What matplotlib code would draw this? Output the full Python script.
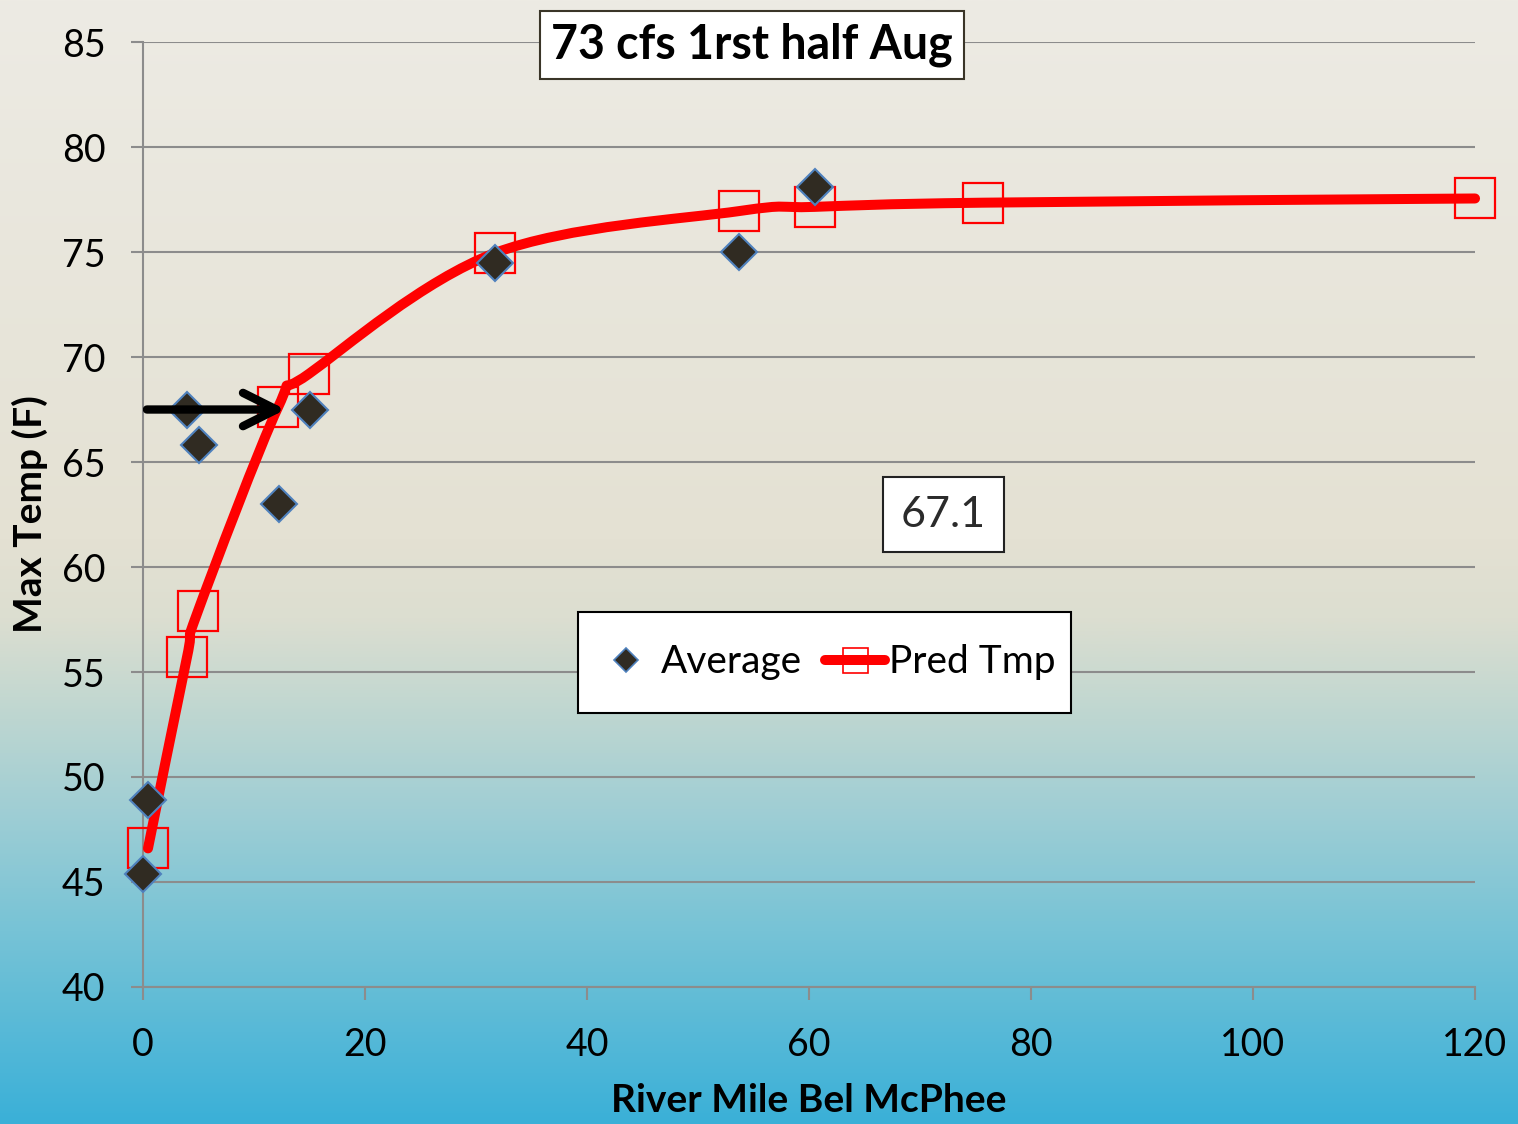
import numpy as np
import matplotlib.pyplot as plt
from matplotlib.path import Path
from matplotlib.patches import PathPatch, FancyArrowPatch, Rectangle
from matplotlib.lines import Line2D

plt.rcParams['font.family'] = ['Lato', 'DejaVu Sans']

# data
avg_mile = [0.0, 0.45, 3.96, 5.05, 12.25, 15.0, 31.7, 53.7, 60.5]
avg_temp = [45.4, 48.9, 67.5, 65.8, 63.0, 67.5, 74.5, 75.0, 78.1]
pred_mile = [0.45, 3.96, 4.95, 12.16, 14.95, 31.7, 53.7, 60.5, 75.7, 120.0]
pred_temp = [46.6, 55.7, 57.9, 67.6, 69.2, 74.95, 76.95, 77.15, 77.35, 77.55]
x_ticks = [0, 20, 40, 60, 80, 100, 120]
y_ticks = [40, 45, 50, 55, 60, 65, 70, 75, 80, 85]
arrow_y = 67.5
arrow_x = [0.1, 13.1]
label_value = '67.1'
title = '73 cfs 1rst half Aug'

grid_c = '#8c8c8c'
W, H = 1518, 1124


def smooth_path(xs, ys):
    # excel style smoothed line: cubic bezier through the points
    pts = np.column_stack([xs, ys])
    n = len(pts)
    verts = [pts[0]]
    codes = [Path.MOVETO]
    for i in range(n - 1):
        p0 = pts[max(i - 1, 0)]
        p1 = pts[i]
        p2 = pts[i + 1]
        p3 = pts[min(i + 2, n - 1)]
        verts += [p1 + (p2 - p0) / 6, p2 - (p3 - p1) / 6, p2]
        codes += [Path.CURVE4] * 3
    return Path(verts, codes)


fig = plt.figure(figsize=(W / 100, H / 100), dpi=100)

# background gradient
stops = [0.0, 0.48, 0.55, 0.62, 0.72, 0.82, 1.0]
cols = np.array([(237, 235, 228), (228, 225, 211), (220, 222, 208), (196, 216, 208),
                 (160, 206, 212), (122, 196, 214), (58, 176, 216)]) / 255.0
yy = np.linspace(0, 1, 600)
grad = np.stack([np.interp(yy, stops, cols[:, k]) for k in range(3)], axis=1)
bg = fig.add_axes([0, 0, 1, 1], zorder=-5)
bg.imshow(grad[:, None, :], aspect='auto', extent=[0, 1, 0, 1], origin='upper')
bg.axis('off')

ax = fig.add_axes([0.0942, 0.1219, 0.8775, 0.8407])
ax.set_facecolor('none')
ax.set_xlim(0, 120)
ax.set_ylim(40, 85)
ax.set_xticks(x_ticks)
ax.set_yticks(y_ticks)
ax.yaxis.grid(True, color=grid_c, lw=1.5)
ax.set_axisbelow(True)
for s in ['top', 'right']:
    ax.spines[s].set_visible(False)
for s in ['left', 'bottom']:
    ax.spines[s].set_color(grid_c)
    ax.spines[s].set_linewidth(1.5)
ax.tick_params(axis='both', length=9, width=1.5, color=grid_c, labelsize=27)
ax.tick_params(axis='y', pad=18)
ax.tick_params(axis='x', pad=20)

ax.plot(pred_mile, pred_temp, ls='none', marker='s', ms=28.5, mfc='none',
        mec='#ff0000', mew=1.6, zorder=3, clip_on=False)
ax.add_patch(PathPatch(smooth_path(pred_mile, pred_temp), fill=False, ec='#ff0000',
                       lw=7.2, capstyle='round', joinstyle='round', zorder=4, clip_on=False))
ax.plot(avg_mile, avg_temp, ls='none', marker='D', ms=18, mfc='#302b22',
        mec='#4f81bd', mew=1.5, zorder=5, clip_on=False)

ax.add_patch(FancyArrowPatch((arrow_x[0], arrow_y), (arrow_x[1], arrow_y),
                             arrowstyle='->,head_length=24,head_width=12',
                             mutation_scale=1, color='black', lw=6,
                             capstyle='round', zorder=6))

ax.text(72.1, 62.5, label_value, fontsize=31, color='#2b2b2b', ha='center', va='center',
        bbox=dict(boxstyle='square,pad=0.42', fc='white', ec='#222222', lw=1.5), zorder=7)

ax.set_xlabel('River Mile Bel McPhee', fontsize=28, fontweight='bold', labelpad=14)
ax.set_ylabel('Max Temp (F)', fontsize=28, fontweight='bold')
ax.yaxis.set_label_coords(-0.071, 0.5)

fig.text(752 / W, 1 - 45 / H, title, fontsize=33.5, fontweight='bold',
         ha='center', va='center',
         bbox=dict(boxstyle='square,pad=0.25', fc='white', ec='#3a3528', lw=1.5))

# legend box drawn separately so its size matches the original
fig.add_artist(Rectangle((578 / W, 1 - 713 / H), (1071 - 578) / W, (713 - 612) / H,
                         transform=fig.transFigure, fc='white', ec='black', lw=1.5, zorder=8))
handles = [
    Line2D([], [], ls='none', marker='D', ms=12.5, mfc='#302b22', mec='#4f81bd', mew=1.2),
    Line2D([], [], color='#ff0000', lw=7.2, solid_capstyle='round', marker='s', ms=18,
           mfc='none', mec='#ff0000', mew=1.2),
]
leg = fig.legend(handles, ['Average', 'Pred Tmp'], loc='center',
                 bbox_to_anchor=(826 / W, 1 - 662.5 / H), ncol=2,
                 fontsize=28, frameon=False, handlelength=1.55, handletextpad=0.1,
                 columnspacing=0.6, borderpad=0.5, borderaxespad=0)
leg.set_zorder(9)

fig.savefig('out.png', dpi=100)
